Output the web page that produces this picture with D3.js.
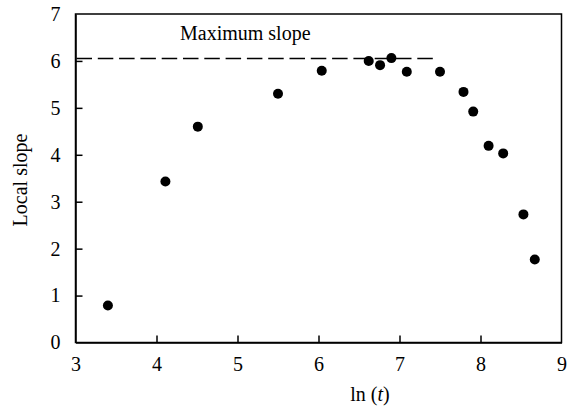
<!DOCTYPE html>
<html>
<head>
<meta charset="utf-8">
<script src="https://cdn.jsdelivr.net/npm/d3@7"></script>
<style>
  body { margin: 0; background: #fff; }
  svg text { font-family: "Liberation Serif", "Times New Roman", serif; fill: #000; }
</style>
</head>
<body>
<div id="chart"></div>
<script>
// local slope vs ln(t)
var lnT = [3.40, 4.11, 4.51, 5.50, 6.04, 6.62, 6.76, 6.90, 7.09, 7.50, 7.79, 7.91, 8.10, 8.28, 8.53, 8.67];
var slope = [0.79, 3.43, 4.60, 5.30, 5.79, 6.00, 5.91, 6.06, 5.77, 5.77, 5.34, 4.92, 4.19, 4.03, 2.73, 1.77];
var maxSlope = 6.05;
var maxLineEnd = 7.47;
var xTicks = [3, 4, 5, 6, 7, 8, 9];
var yTicks = [0, 1, 2, 3, 4, 5, 6, 7];

var width = 581, height = 408;
var margin = {top: 14, right: 19.5, bottom: 65.5, left: 75.5};
var serif = "'Liberation Serif', 'Times New Roman', serif";

var svg = d3.select("#chart").append("svg")
    .attr("width", width)
    .attr("height", height);

var x = d3.scaleLinear().domain([3, 9]).range([margin.left, width - margin.right]);
var y = d3.scaleLinear().domain([0, 7]).range([height - margin.bottom, margin.top]);

// frame
svg.append("rect")
    .attr("x", x(3))
    .attr("y", y(7))
    .attr("width", x(9) - x(3))
    .attr("height", y(0) - y(7))
    .attr("fill", "none")
    .attr("stroke", "#000")
    .attr("stroke-width", 1.5);

var xAxis = svg.append("g")
    .attr("transform", "translate(0," + y(0) + ")")
    .call(d3.axisBottom(x).tickValues(xTicks).tickFormat(d3.format("d"))
        .tickSizeInner(-7).tickSizeOuter(0).tickPadding(14));

var yAxis = svg.append("g")
    .attr("transform", "translate(" + x(3) + ",0)")
    .call(d3.axisLeft(y).tickValues(yTicks).tickFormat(d3.format("d"))
        .tickSizeInner(-7).tickSizeOuter(0).tickPadding(15));

[xAxis, yAxis].forEach(function(g) {
    g.attr("font-family", serif).attr("font-size", 20);
    g.select(".domain").attr("stroke-width", 1.5);
    g.selectAll(".tick line").attr("stroke-width", 1.5);
    g.selectAll(".tick text")
        .style("font-family", serif)
        .style("font-size", "20px");
});
// first/last ticks sit on the frame, hide them
xAxis.selectAll(".tick line").filter(function(d) { return d == 3 || d == 9; }).remove();
yAxis.selectAll(".tick line").filter(function(d) { return d == 0 || d == 7; }).remove();

// maximum slope line
svg.append("line")
    .attr("x1", x(3) + 1)
    .attr("x2", x(maxLineEnd))
    .attr("y1", y(maxSlope))
    .attr("y2", y(maxSlope))
    .attr("stroke", "#000")
    .attr("stroke-width", 1.5)
    .attr("stroke-dasharray", "15.5,5.8");

svg.append("text")
    .attr("x", 180)
    .attr("y", 40)
    .style("font-size", "20px")
    .text("Maximum slope");

svg.append("g").selectAll("circle")
    .data(lnT)
    .enter().append("circle")
    .attr("cx", function(d) { return x(d); })
    .attr("cy", function(d, i) { return y(slope[i]); })
    .attr("r", 5)
    .attr("fill", "#000");

// axis titles
var xt = svg.append("text")
    .attr("x", 370)
    .attr("y", 401)
    .attr("text-anchor", "middle")
    .style("font-size", "20px");
xt.append("tspan").text("ln (");
xt.append("tspan").style("font-style", "italic").text("t");
xt.append("tspan").text(")");

svg.append("text")
    .attr("transform", "translate(27,180) rotate(-90)")
    .attr("text-anchor", "middle")
    .style("font-size", "20px")
    .text("Local slope");
</script>
</body>
</html>
